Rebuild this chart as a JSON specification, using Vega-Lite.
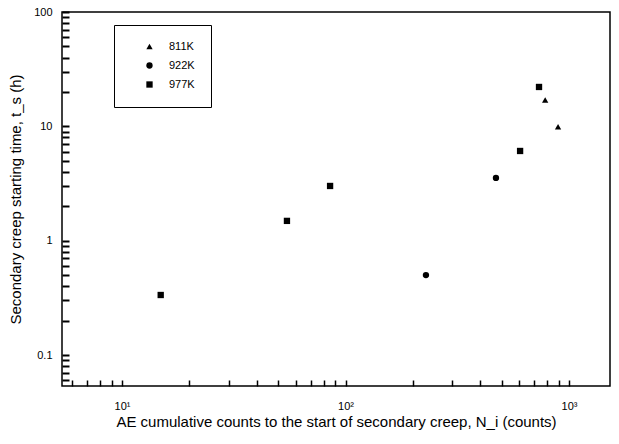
{
  "$schema": "https://vega.github.io/schema/vega-lite/v6.json",
  "autosize": "none",
  "width": 548,
  "height": 374,
  "padding": {"left": 62, "top": 12, "right": 9, "bottom": 58},
  "background": "white",
  "config": {
    "font": "Liberation Sans",
    "view": {"stroke": "black", "strokeWidth": 1.5},
    "axis": {"grid": false, "labelColor": "black", "titleColor": "black", "labelFont": "Liberation Sans", "titleFont": "Liberation Sans", "titleFontWeight": "normal", "labelFontSize": 11, "titleFontSize": 15}
  },
  "data": {"values": [
    {"N": 14.9, "t": 0.335, "T": "977K"},
    {"N": 54.7, "t": 1.49, "T": "977K"},
    {"N": 85.3, "t": 3.01, "T": "977K"},
    {"N": 229, "t": 0.50, "T": "922K"},
    {"N": 471, "t": 3.54, "T": "922K"},
    {"N": 604, "t": 6.09, "T": "977K"},
    {"N": 734, "t": 22.1, "T": "977K"},
    {"N": 782, "t": 17.0, "T": "811K"},
    {"N": 893, "t": 9.9, "T": "811K"}
  ]},
  "layer": [
    {
      "mark": {"type": "point", "filled": true, "opacity": 1, "color": "black", "size": 40},
      "encoding": {
        "x": {"field": "N", "type": "quantitative", "scale": {"type": "log", "domain": [5.39, 1525], "nice": false},
          "axis": {"orient": "bottom", "offset": -6, "domain": false, "ticks": true, "tickColor": "black", "values": [6, 7, 8, 9, 10, 20, 30, 40, 50, 60, 70, 80, 90, 100, 200, 300, 400, 500, 600, 700, 800, 900, 1000], "labelExpr": "datum.value == 10 ? '10¹' : datum.value == 100 ? '10²' : datum.value == 1000 ? '10³' : ''", "tickSize": 6, "tickWidth": 1.5, "labelPadding": 14, "title": "AE cumulative counts to the start of secondary creep, N_i (counts)", "titlePadding": 3}},
        "y": {"field": "t", "type": "quantitative", "scale": {"type": "log", "domain": [0.0536, 100], "nice": false},
          "axis": {"orient": "left", "offset": -7, "zindex": 1, "domain": false, "ticks": true, "tickColor": "#000000", "tickOpacity": 1, "values": [0.06, 0.07, 0.08, 0.09, 0.1, 0.2, 0.3, 0.4, 0.5, 0.6, 0.7, 0.8, 0.9, 1, 2, 3, 4, 5, 6, 7, 8, 9, 10, 20, 30, 40, 50, 60, 70, 80, 90, 100], "labelExpr": "datum.value == 0.1 ? '0.1' : datum.value == 1 ? '1' : datum.value == 10 ? '10' : datum.value == 100 ? '100' : ''", "tickSize": 7, "tickWidth": 2, "labelPadding": 10, "title": "Secondary creep starting time, t_s (h)", "titlePadding": 10}},
        "shape": {"field": "T", "type": "nominal", "scale": {"domain": ["811K", "922K", "977K"], "range": ["triangle-up", "circle", "square"]},
          "legend": {"title": null, "orient": "none", "legendX": 52, "legendY": 13, "strokeColor": "black", "fillColor": "white", "padding": 16, "rowPadding": 6, "labelFontSize": 11, "labelFont": "Liberation Sans", "symbolFillColor": "black", "symbolStrokeColor": "black", "symbolSize": 40, "symbolOffset": 14, "labelOffset": 14}}
      }
    }
  ]
}
